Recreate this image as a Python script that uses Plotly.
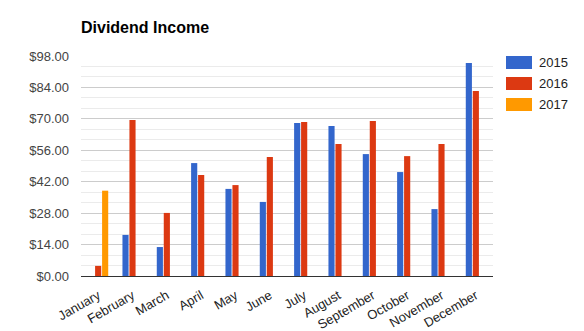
import plotly.graph_objects as go

months = ["January", "February", "March", "April", "May", "June", "July",
          "August", "September", "October", "November", "December"]
s2015 = [None, 18.3, 12.9, 50.3, 38.8, 33.0, 68.2, 66.8, 54.3, 46.3, 29.8, 94.9]
s2016 = [4.5, 69.5, 28.1, 45.0, 40.5, 53.0, 68.6, 58.8, 69.0, 53.4, 58.8, 82.4]
s2017 = [38.0, None, None, None, None, None, None, None, None, None, None, None]
series_names = ["2015", "2016", "2017"]
colors = ["#3366cc", "#dc3912", "#ff9900"]

FONT = "Liberation Sans, Arial, sans-serif"

fig = go.Figure()
for name, vals, c in zip(series_names, [s2015, s2016, s2017], colors):
    fig.add_trace(go.Bar(x=months, y=vals, name=name, marker_color=c,
                         marker_line_width=0, showlegend=False))

# custom legend (swatch + label) to the right of the plot area
shapes = []
annotations = []
for i, (name, c) in enumerate(zip(series_names, colors)):
    top = -21 * i
    shapes.append(dict(type="rect", xref="paper", yref="paper",
                       xsizemode="pixel", ysizemode="pixel",
                       xanchor=1, yanchor=1,
                       x0=13, x1=39, y0=top, y1=top - 13,
                       fillcolor=c, line_width=0))
    annotations.append(dict(text=name, xref="paper", yref="paper", x=1, y=1,
                            xanchor="left", yanchor="middle",
                            xshift=44, yshift=top - 6.5, showarrow=False,
                            font=dict(family=FONT, size=13, color="#222222")))

fig.update_layout(
    width=584, height=331,
    margin=dict(l=81, r=91, t=56, b=55),
    paper_bgcolor="white", plot_bgcolor="white",
    barmode="group", bargap=0.39, bargroupgap=0.12,
    font=dict(family=FONT, size=13, color="#444444"),
    title=dict(text="<b>Dividend Income</b>", x=81 / 584, xanchor="left",
               y=1 - 27 / 331, yanchor="middle",
               font=dict(family=FONT, size=16, color="#000000")),
    shapes=shapes,
    annotations=annotations,
)
fig.update_xaxes(tickangle=-30, showline=True, linecolor="#333333", linewidth=1,
                 ticks="", tickfont=dict(family=FONT, size=13, color="#222222"),
                 ticklabelstandoff=6,
                 showgrid=False, automargin=False)
fig.update_yaxes(range=[0, 98], dtick=14, tickprefix="$", tickformat=".2f",
                 showgrid=True, gridcolor="#cccccc", gridwidth=1, zeroline=False,
                 ticks="", tickfont=dict(family=FONT, size=13, color="#444444"),
                 ticklabelstandoff=11,
                 minor=dict(dtick=14 / 3, showgrid=True, gridcolor="#ebebeb"),
                 fixedrange=True, automargin=False)

fig.write_html("out.html")
